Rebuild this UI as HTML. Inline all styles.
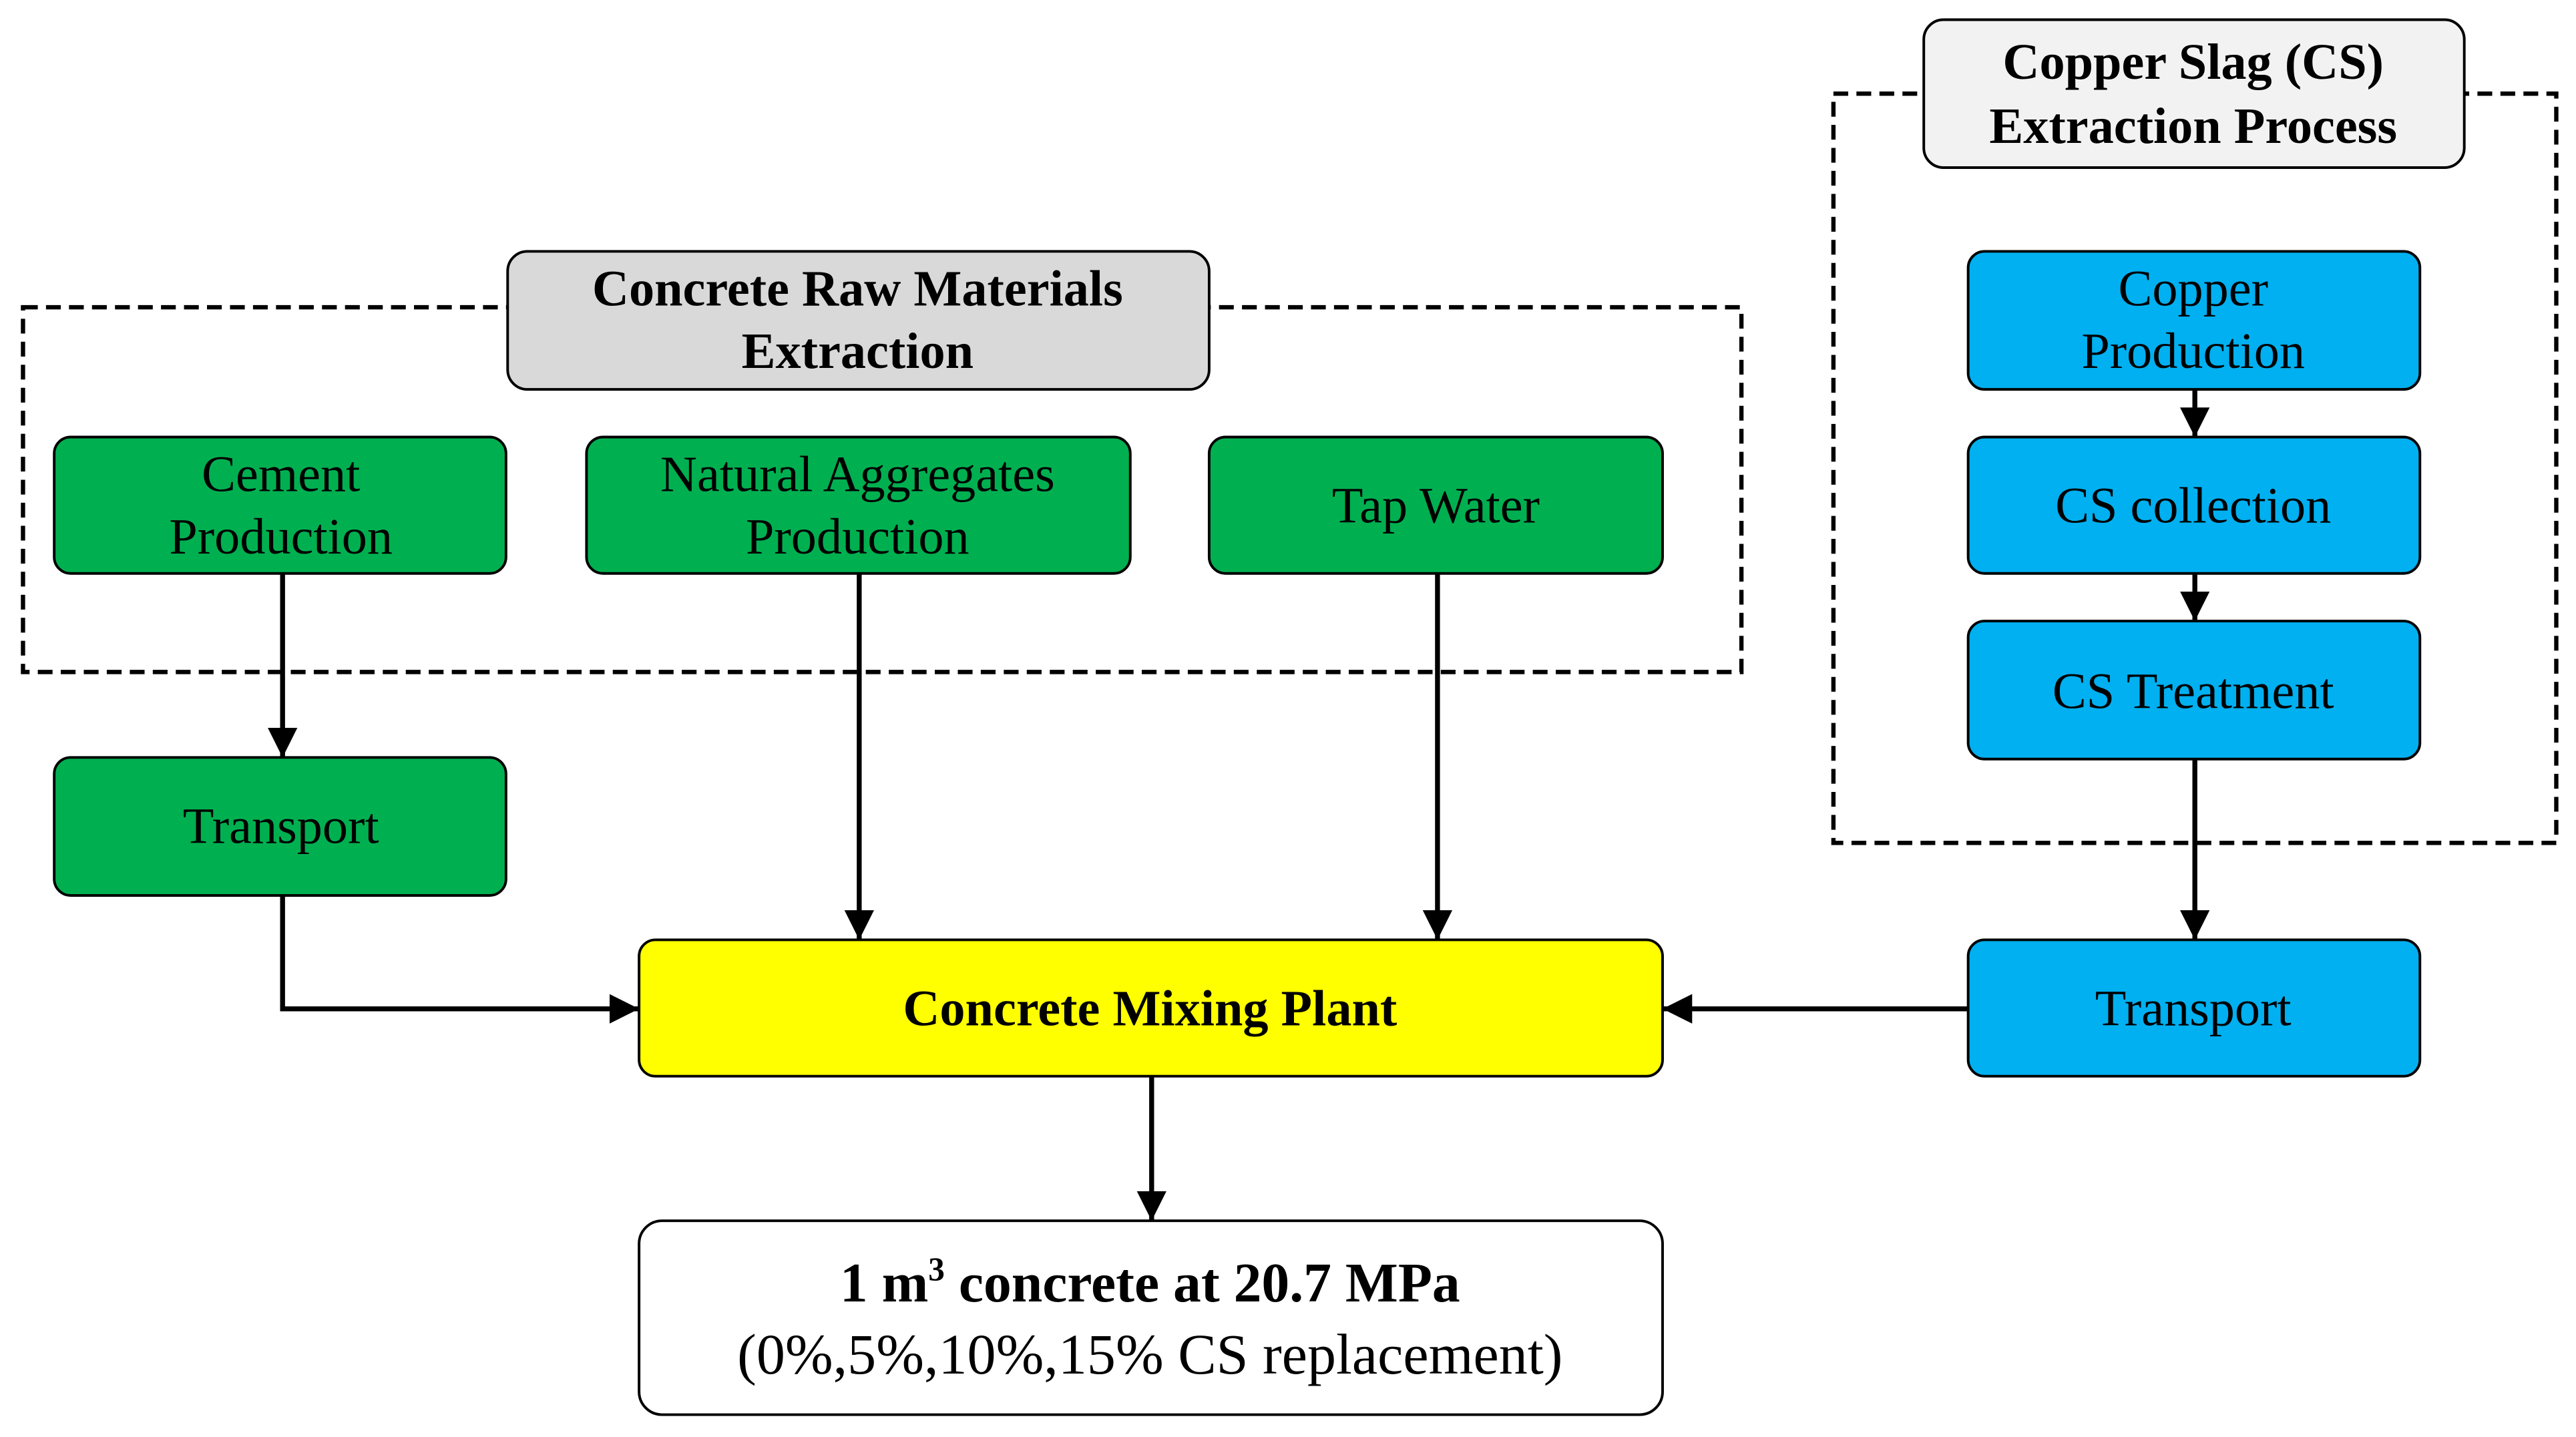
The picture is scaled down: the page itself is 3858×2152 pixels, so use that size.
<!DOCTYPE html>
<html><head><meta charset="utf-8"><style>html,body{margin:0;padding:0;background:#fff}svg{display:block}</style></head>
<body>
<svg width="3858" height="2152" viewBox="0 0 1568 874.6" preserveAspectRatio="none" xmlns="http://www.w3.org/2000/svg" font-family="'Liberation Serif', serif">
<defs><marker id="a" markerWidth="6" markerHeight="6" refX="6" refY="3" orient="auto" markerUnits="strokeWidth"><path d="M0,0 L6,3 L0,6 z" fill="#000"/></marker></defs>
<g fill="none" stroke="#000" stroke-width="2.6" stroke-dasharray="9,5">
<rect x="14" y="187" width="1046" height="222"/>
<rect x="1116" y="57" width="440" height="456"/>
</g>
<g stroke="#000" stroke-width="3" fill="none" marker-end="url(#a)">
<path d="M172 349 V461"/>
<path d="M523 349 V572"/>
<path d="M875 349 V572"/>
<path d="M172 545 V614 H389"/>
<path d="M1198 614 H1012"/>
<path d="M701 655 V743"/>
<path d="M1336 237 V266"/>
<path d="M1336 349 V378"/>
<path d="M1336 462 V572"/>
</g>
<g stroke="#000" stroke-width="1.6">
<rect x="309" y="153" width="427" height="84" rx="12" fill="#d9d9d9"/>
<rect x="1171" y="12" width="329" height="90" rx="12" fill="#f2f2f2"/>
<rect x="33" y="266" width="275" height="83" rx="10" fill="#00b050"/>
<rect x="357" y="266" width="331" height="83" rx="10" fill="#00b050"/>
<rect x="736" y="266" width="276" height="83" rx="10" fill="#00b050"/>
<rect x="33" y="461" width="275" height="84" rx="10" fill="#00b050"/>
<rect x="389" y="572" width="623" height="83" rx="10" fill="#ffff00"/>
<rect x="389" y="743" width="623" height="118" rx="14" fill="#fff"/>
<rect x="1198" y="153" width="275" height="84" rx="10" fill="#00b0f0"/>
<rect x="1198" y="266" width="275" height="83" rx="10" fill="#00b0f0"/>
<rect x="1198" y="378" width="275" height="84" rx="10" fill="#00b0f0"/>
<rect x="1198" y="572" width="275" height="83" rx="10" fill="#00b0f0"/>
</g>
<g font-size="31" text-anchor="middle" fill="#000">
<text x="522" y="186" font-weight="bold">Concrete Raw Materials</text>
<text x="522" y="224" font-weight="bold">Extraction</text>
<text x="1335" y="48" font-weight="bold">Copper Slag (CS)</text>
<text x="1335" y="87" font-weight="bold">Extraction Process</text>
<text x="171" y="299">Cement</text>
<text x="171" y="337">Production</text>
<text x="522" y="299">Natural Aggregates</text>
<text x="522" y="337">Production</text>
<text x="874" y="318">Tap Water</text>
<text x="171" y="513">Transport</text>
<text x="700" y="624" font-weight="bold">Concrete Mixing Plant</text>
<text x="700" y="792" font-weight="bold" font-size="34">1 m<tspan font-size="20" dy="-13">3</tspan><tspan dy="13"> concrete at 20.7 MPa</tspan></text>
<text x="700" y="836" font-size="35">(0%,5%,10%,15% CS replacement)</text>
<text x="1335" y="186">Copper</text>
<text x="1335" y="224">Production</text>
<text x="1335" y="318">CS collection</text>
<text x="1335" y="431">CS Treatment</text>
<text x="1335" y="624">Transport</text>
</g>
</svg>
</body></html>
